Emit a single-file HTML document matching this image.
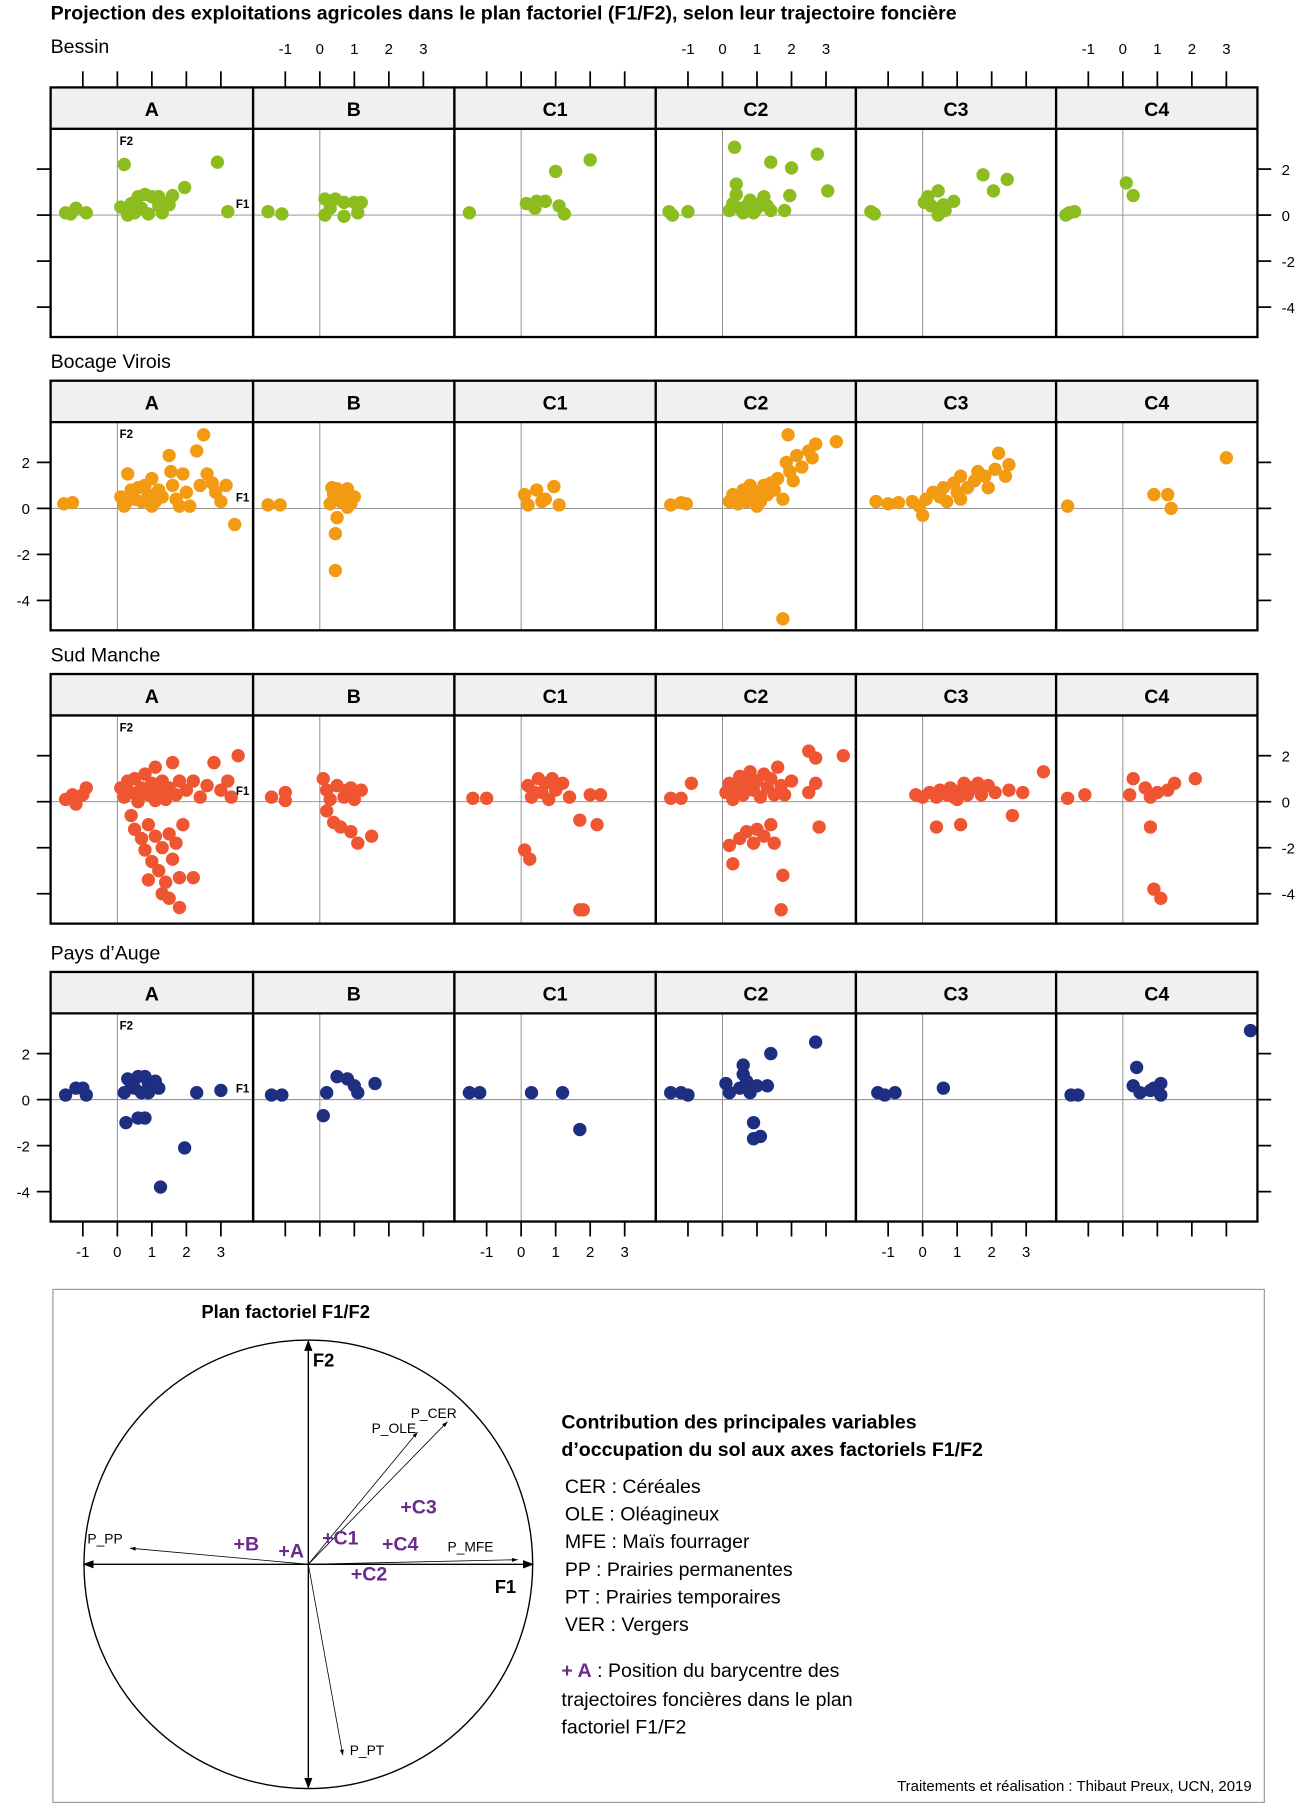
<!DOCTYPE html>
<html><head><meta charset="utf-8"><style>
html,body{margin:0;padding:0;background:#fff}
svg{display:block}
text{font-family:"Liberation Sans",sans-serif}
</style></head><body>
<svg id="chart" width="1300" height="1807" viewBox="0 0 1130 1571" preserveAspectRatio="none" xmlns="http://www.w3.org/2000/svg">
<text x="44" y="17" font-size="17" font-weight="bold">Projection des exploitations agricoles dans le plan factoriel (F1/F2), selon leur trajectoire foncière</text>
<g id="panels"></g>
<g id="legend-box">
<rect x="46" y="1121" width="1053" height="446" fill="none" stroke="#999" stroke-width="1"/>
<text x="175" y="1146" font-size="16" font-weight="bold">Plan factoriel F1/F2</text>
<circle cx="268" cy="1360" r="195" fill="none" stroke="#000" stroke-width="1.2"/>
<defs><marker id="ah" markerWidth="8" markerHeight="8" refX="7" refY="4" orient="auto"><path d="M0,1 L8,4 L0,7 z" fill="#000"/></marker>
<marker id="ahs" markerWidth="8" markerHeight="8" refX="7" refY="4" orient="auto"><path d="M0,1.5 L7,4 L0,6.5 z" fill="#000"/></marker></defs>
<line x1="268" y1="1360" x2="268" y2="1166" stroke="#000" stroke-width="1.2" marker-end="url(#ah)"/>
<line x1="268" y1="1360" x2="268" y2="1554" stroke="#000" stroke-width="1.2" marker-end="url(#ah)"/>
<line x1="268" y1="1360" x2="463" y2="1360" stroke="#000" stroke-width="1.2" marker-end="url(#ah)"/>
<line x1="268" y1="1360" x2="73" y2="1360" stroke="#000" stroke-width="1.2" marker-end="url(#ah)"/>
<text x="272" y="1188" font-size="16" font-weight="bold">F2</text>
<text x="430" y="1385" font-size="16" font-weight="bold">F1</text>
<g stroke="#000" stroke-width="0.7">
<line x1="268" y1="1360" x2="389" y2="1236" marker-end="url(#ahs)"/>
<line x1="268" y1="1360" x2="363" y2="1245" marker-end="url(#ahs)"/>
<line x1="268" y1="1360" x2="113" y2="1346" marker-end="url(#ahs)"/>
<line x1="268" y1="1360" x2="450" y2="1356" marker-end="url(#ahs)"/>
<line x1="268" y1="1360" x2="298" y2="1526" marker-end="url(#ahs)"/>
</g>
<g font-size="12">
<text x="357" y="1233">P_CER</text><text x="323" y="1246">P_OLE</text>
<text x="76" y="1342">P_PP</text><text x="389" y="1349">P_MFE</text><text x="304" y="1526">P_PT</text>
</g>
<g font-size="17" font-weight="bold" fill="#6a2c8a">
<text x="203" y="1348">+B</text>
<text x="242" y="1354">+A</text>
<text x="280" y="1343">+C1</text>
<text x="305" y="1374">+C2</text>
<text x="348" y="1316">+C3</text>
<text x="332" y="1348">+C4</text>
</g>
<text x="488" y="1242" font-size="17" font-weight="bold">Contribution des principales variables</text>
<text x="488" y="1266" font-size="17" font-weight="bold">d’occupation du sol aux axes factoriels F1/F2</text>
<g font-size="17">
<text x="491" y="1298">CER : Céréales</text>
<text x="491" y="1322">OLE : Oléagineux</text>
<text x="491" y="1346">MFE : Maïs fourrager</text>
<text x="491" y="1370">PP : Prairies permanentes</text>
<text x="491" y="1394">PT : Prairies temporaires</text>
<text x="491" y="1418">VER : Vergers</text>
<text x="488" y="1458"><tspan fill="#6a2c8a" font-weight="bold">+ A</tspan> : Position du barycentre des</text>
<text x="488" y="1483">trajectoires foncières dans le plan</text>
<text x="488" y="1507">factoriel F1/F2</text>
</g>
<text x="1088" y="1557" font-size="13" text-anchor="end">Traitements et réalisation : Thibaut Preux, UCN, 2019</text>
</g>
</svg>
<script>
const regions = ["Bessin","Bocage Virois","Sud Manche","Pays d’Auge"];
const categories = ["A","B","C1","C2","C3","C4"];
const xTicks = [-1,0,1,2,3];
const yTicks = [-4,-2,0,2];
const colors = ["#8cbd1e","#f29a12","#ee5530","#1e2f82"];
// Bessin
const bessinA = [[-1.5,0.1],[-1.2,0.3],[-0.9,0.1],[0.2,2.2],[2.9,2.3],[3.2,0.15],[0.1,0.35],[0.3,0],[0.5,0.1],[0.6,0.8],[0.8,0.9],[1.0,0.8],[1.2,0.8],[1.4,0.5],[1.6,0.85],[1.95,1.2],[0.7,0.3],[0.9,0.05],[1.2,0.4],[1.5,0.45],[1.3,0.1],[0.4,0.5],[-1.35,0.05]];
const bessinB = [[-1.5,0.15],[-1.1,0.05],[0.15,0.7],[0.45,0.7],[0.15,0],[0.7,0.55],[1.0,0.55],[0.7,-0.05],[1.2,0.55],[0.3,0.3],[1.1,0.1]];
const bessinC1 = [[-1.5,0.1],[0.15,0.5],[0.45,0.6],[0.7,0.6],[1.0,1.9],[2.0,2.4],[1.1,0.4],[1.25,0.05],[0.4,0.3]];
const bessinC2 = [[-1.55,0.15],[-1.45,0],[-1.0,0.15],[0.35,2.95],[1.4,2.3],[2.0,2.05],[2.75,2.65],[3.05,1.05],[1.95,0.85],[1.8,0.2],[0.4,1.35],[0.4,0.9],[0.2,0.2],[0.5,0.3],[0.7,0.4],[0.8,0.65],[1.0,0.3],[1.1,0.5],[1.2,0.8],[1.3,0.4],[0.6,0.1],[1.4,0.2],[0.9,0.1],[0.3,0.5]];
const bessinC3 = [[-1.5,0.15],[-1.4,0.05],[0.05,0.55],[0.15,0.8],[0.45,1.05],[0.6,0.45],[0.45,0],[0.65,0.2],[0.9,0.6],[1.75,1.75],[2.05,1.05],[2.45,1.55],[0.25,0.4]];
const bessinC4 = [[-1.65,0],[-1.4,0.15],[0.1,1.4],[0.3,0.85],[-1.55,0.1]];
// Bocage Virois
const bocageA = [[-1.55,0.2],[-1.3,0.25],[0.1,0.5],[0.2,0.1],[0.3,1.5],[0.4,0.8],[0.5,0.4],[0.6,0.9],[0.7,0.3],[0.8,1.0],[0.9,0.6],[1.0,1.3],[1.1,0.3],[1.2,0.8],[1.5,2.3],[1.55,1.6],[1.6,1.0],[1.7,0.4],[1.8,0.1],[1.9,1.5],[2.0,0.7],[2.1,0.1],[2.3,2.5],[2.4,1.0],[2.5,3.2],[2.6,1.5],[2.75,1.1],[2.85,0.7],[3.0,0.3],[3.15,1.0],[3.4,-0.7],[1.3,0.5],[0.25,0.25],[1.0,0.1]];
const bocageB = [[-1.5,0.15],[-1.15,0.15],[0.3,0.2],[0.4,0.6],[0.5,0.85],[0.6,0.3],[0.7,0.5],[0.8,0.85],[0.9,0.2],[1.0,0.5],[0.45,-1.1],[0.45,-2.7],[0.5,-0.4],[0.35,0.9],[0.8,0.05]];
const bocageC1 = [[0.1,0.6],[0.2,0.15],[0.45,0.8],[0.7,0.4],[0.95,0.95],[1.1,0.15],[0.6,0.3]];
const bocageC2 = [[-1.5,0.15],[-1.2,0.25],[-1.05,0.2],[0.2,0.3],[0.3,0.6],[0.45,0.2],[0.6,0.8],[0.7,0.3],[0.8,1.0],[0.9,0.5],[1.0,0.7],[1.1,0.3],[1.2,1.0],[1.3,0.6],[1.4,1.1],[1.5,0.8],[1.6,1.3],[1.75,0.4],[1.85,2.0],[1.95,1.6],[2.05,1.2],[2.15,2.3],[2.3,1.8],[2.5,2.5],[2.6,2.2],[2.7,2.8],[1.9,3.2],[3.3,2.9],[1.75,-4.8],[1.0,0.1],[0.5,0.5]];
const bocageC3 = [[-1.35,0.3],[-1.0,0.2],[-0.7,0.25],[-0.3,0.3],[-0.1,0.1],[0.1,0.4],[0.3,0.7],[0.5,0.5],[0.6,0.9],[0.7,0.3],[0.9,1.1],[1.0,0.7],[1.1,1.4],[1.3,0.9],[1.5,1.2],[1.6,1.6],[1.8,1.4],[1.9,0.9],[2.1,1.7],[2.2,2.4],[2.5,1.9],[2.4,1.4],[0.0,-0.3],[1.1,0.4]];
const bocageC4 = [[-1.6,0.1],[0.9,0.6],[1.3,0.6],[1.4,0.0],[3.0,2.2]];
// Sud Manche
const sudA = [[-1.5,0.1],[-1.3,0.3],[-1.2,-0.1],[-1.0,0.3],[-0.9,0.6],[0.1,0.6],[0.2,0.2],[0.3,0.9],[0.4,0.4],[0.5,1.0],[0.6,0.1],[0.7,0.6],[0.8,1.2],[0.9,0.3],[1.0,0.8],[1.1,1.5],[1.2,0.4],[1.3,0.9],[1.4,0.1],[1.5,0.6],[1.6,1.7],[1.7,0.3],[1.8,0.9],[2.0,0.5],[2.2,0.9],[2.4,0.2],[2.6,0.7],[2.8,1.7],[3.0,0.5],[3.2,0.9],[3.3,0.2],[3.5,2.0],[0.4,-0.6],[0.5,-1.2],[0.7,-1.6],[0.9,-1.0],[0.8,-2.1],[1.0,-2.6],[1.1,-1.5],[1.2,-3.0],[1.3,-2.0],[1.4,-3.5],[1.5,-1.4],[1.6,-2.5],[1.7,-1.8],[1.8,-3.3],[0.9,-3.4],[1.3,-4.0],[1.5,-4.2],[1.8,-4.6],[1.9,-1.0],[2.2,-3.3],[0.6,0.0],[1.1,0.05]];
const sudB = [[-1.4,0.2],[-1.0,0.4],[-1.0,0.05],[0.1,1.0],[0.2,0.5],[0.3,0.1],[0.4,-0.9],[0.5,0.7],[0.6,-1.1],[0.7,0.2],[0.8,0.5],[0.9,-1.3],[1.0,0.1],[1.1,-1.8],[1.2,0.5],[1.5,-1.5],[0.2,-0.4],[0.9,0.6]];
const sudC1 = [[-1.4,0.15],[-1.0,0.15],[0.2,0.7],[0.3,0.2],[0.5,1.0],[0.6,0.4],[0.7,0.8],[0.8,0.1],[0.9,1.0],[1.0,0.5],[1.2,0.8],[1.4,0.2],[0.1,-2.1],[0.25,-2.5],[1.7,-4.7],[1.8,-4.7],[1.7,-0.8],[2.2,-1.0],[2.3,0.3],[2.0,0.3],[0.4,0.4]];
const sudC2 = [[-1.5,0.15],[-1.2,0.15],[-0.9,0.8],[0.1,0.4],[0.2,0.8],[0.3,0.1],[0.4,0.6],[0.5,1.1],[0.6,0.3],[0.7,0.8],[0.8,1.3],[0.9,0.5],[1.0,0.9],[1.1,0.2],[1.2,1.2],[1.3,0.6],[1.4,1.0],[1.5,0.3],[1.6,1.5],[1.7,0.7],[1.8,0.3],[2.0,0.9],[2.5,2.2],[2.7,1.9],[3.5,2.0],[2.7,0.8],[2.8,-1.1],[0.5,-1.6],[0.7,-1.3],[0.9,-1.8],[1.0,-1.2],[1.2,-1.5],[1.4,-1.0],[1.5,-1.8],[0.3,-2.7],[0.2,-1.9],[1.75,-3.2],[1.7,-4.7],[2.5,0.4]];
const sudC3 = [[-0.2,0.3],[0.0,0.2],[0.2,0.4],[0.4,0.2],[0.5,0.5],[0.7,0.3],[0.8,0.6],[0.9,0.2],[1.1,0.5],[1.2,0.8],[1.3,0.3],[1.5,0.6],[1.6,0.8],[1.7,0.3],[1.9,0.7],[2.1,0.4],[2.5,0.5],[2.9,0.4],[0.4,-1.1],[1.1,-1.0],[2.6,-0.6],[3.5,1.3],[1.0,0.1],[1.4,0.6]];
const sudC4 = [[-1.6,0.15],[-1.1,0.3],[0.2,0.3],[0.3,1.0],[0.65,0.6],[0.8,-1.1],[1.0,0.4],[1.3,0.5],[1.5,0.8],[2.1,1.0],[0.9,-3.8],[1.1,-4.2],[0.8,0.2]];
// Pays d'Auge
const paysA = [[-1.5,0.2],[-1.2,0.5],[-1.0,0.5],[-0.9,0.2],[0.2,0.3],[0.3,0.9],[0.4,0.7],[0.5,0.5],[0.6,1.0],[0.8,1.0],[0.9,0.7],[0.9,0.3],[1.1,0.8],[1.2,0.5],[0.7,0.3],[0.25,-1.0],[0.6,-0.8],[0.8,-0.8],[1.25,-3.8],[1.95,-2.1],[2.3,0.3],[3.0,0.4]];
const paysB = [[-1.4,0.2],[-1.1,0.2],[0.2,0.3],[0.5,1.0],[0.8,0.9],[1.0,0.6],[1.1,0.3],[0.1,-0.7],[1.6,0.7]];
const paysC1 = [[-1.5,0.3],[-1.2,0.3],[0.3,0.3],[1.2,0.3],[1.7,-1.3]];
const paysC2 = [[-1.5,0.3],[-1.2,0.3],[-1.0,0.2],[0.1,0.7],[0.2,0.3],[0.5,0.5],[0.6,1.5],[0.6,1.1],[0.7,0.8],[0.8,0.3],[1.0,0.6],[0.9,-1.0],[0.9,-1.7],[1.1,-1.6],[1.3,0.6],[1.4,2.0],[2.7,2.5]];
const paysC3 = [[-1.3,0.3],[-1.1,0.2],[-0.8,0.3],[0.6,0.5]];
const paysC4 = [[-1.5,0.2],[-1.3,0.2],[0.3,0.6],[0.4,1.4],[0.5,0.3],[0.8,0.4],[0.9,0.5],[1.1,0.7],[1.1,0.2],[3.7,3.0]];
const series = [
  [bessinA,bessinB,bessinC1,bessinC2,bessinC3,bessinC4],
  [bocageA,bocageB,bocageC1,bocageC2,bocageC3,bocageC4],
  [sudA,sudB,sudC1,sudC2,sudC3,sudC4],
  [paysA,paysB,paysC1,paysC2,paysC3,paysC4]
];

const NS = "http://www.w3.org/2000/svg";
const root = document.getElementById('panels');
const colX = [44,220,395,570,744,918,1093];
const stripTops = [76,331,586,845];
const stripH = 36, plotH = 181;
function mk(tag, attrs, parent){
  const e = document.createElementNS(NS, tag);
  for (const k in attrs) e.setAttribute(k, attrs[k]);
  (parent||root).appendChild(e);
  return e;
}
regions.forEach((reg, r) => {
  const st = stripTops[r];
  const pt = st + stripH;
  const g = mk('g', {});
  
  
  const lab = mk('text', {x:44, y:(r === 0 ? st-30 : st-11), 'font-size':17}, g);
  lab.textContent = reg;
  
  
  const yScale = v => pt + 75 - v * 20;
  categories.forEach((cat, c) => {
    const L = colX[c], R = colX[c+1];
    const xScale = v => L + 58 + v * 30;
    const strip = mk('rect', {x:L, y:st, width:R-L, height:stripH, fill:'#f0f0f0', stroke:'none'}, g);
    
    
    const sl = mk('text', {x:(L+R)/2, y:st+25, 'font-size':17, 'font-weight':'bold', 'text-anchor':'middle'}, g);
    sl.textContent = cat;
    
    
    mk('line', {x1:xScale(0), x2:xScale(0), y1:pt, y2:pt+plotH, stroke:'#888', 'stroke-width':0.8}, g);
    mk('line', {x1:L, x2:R, y1:yScale(0), y2:yScale(0), stroke:'#888', 'stroke-width':0.8}, g);
    if (c === 0) {
      const f2 = mk('text', {x:xScale(0)+2, y:pt+14, 'font-size':10, 'font-weight':'bold'}, g); f2.textContent='F2';
      const f1 = mk('text', {x:R-15, y:yScale(0)-6, 'font-size':10, 'font-weight':'bold'}, g); f1.textContent='F1';
    }
    series[r][c].forEach(p => {
      const d = mk('circle', {cx:xScale(p[0]), cy:yScale(p[1]), r:5.8, fill:colors[r]}, g);
      
      
    });
    if (r === 0) {
      xTicks.forEach(t => {
        mk('line', {x1:xScale(t), x2:xScale(t), y1:st-14, y2:st, stroke:'#000', 'stroke-width':1.5}, g);
        if (c % 2 === 1) { const tl = mk('text', {x:xScale(t), y:st-29, 'font-size':13, 'text-anchor':'middle'}, g); tl.textContent = t; }
      });
    }
    if (r === 3) {
      xTicks.forEach(t => {
        mk('line', {x1:xScale(t), x2:xScale(t), y1:pt+plotH, y2:pt+plotH+13, stroke:'#000', 'stroke-width':1.5}, g);
        if (c % 2 === 0) { const tl = mk('text', {x:xScale(t), y:pt+plotH+31, 'font-size':13, 'text-anchor':'middle'}, g); tl.textContent = t; }
      });
    }
    mk('rect', {x:L, y:st, width:R-L, height:stripH+plotH, fill:'none', stroke:'#000', 'stroke-width':2}, g);
    mk('line', {x1:L, x2:R, y1:pt, y2:pt, stroke:'#000', 'stroke-width':2}, g);
  });
  yTicks.forEach(t => {
    const y = yScale(t);
    mk('line', {x1:32, x2:44, y1:y, y2:y, stroke:'#000', 'stroke-width':1.5}, g);
    mk('line', {x1:1093, x2:1105, y1:y, y2:y, stroke:'#000', 'stroke-width':1.5}, g);
    if (r % 2 === 1) { const tl = mk('text', {x:26, y:y+5, 'font-size':13, 'text-anchor':'end'}, g); tl.textContent = t; }
    else { const tl = mk('text', {x:1114, y:y+5, 'font-size':13}, g); tl.textContent = t; }
  });
});
</script>
</body></html>
